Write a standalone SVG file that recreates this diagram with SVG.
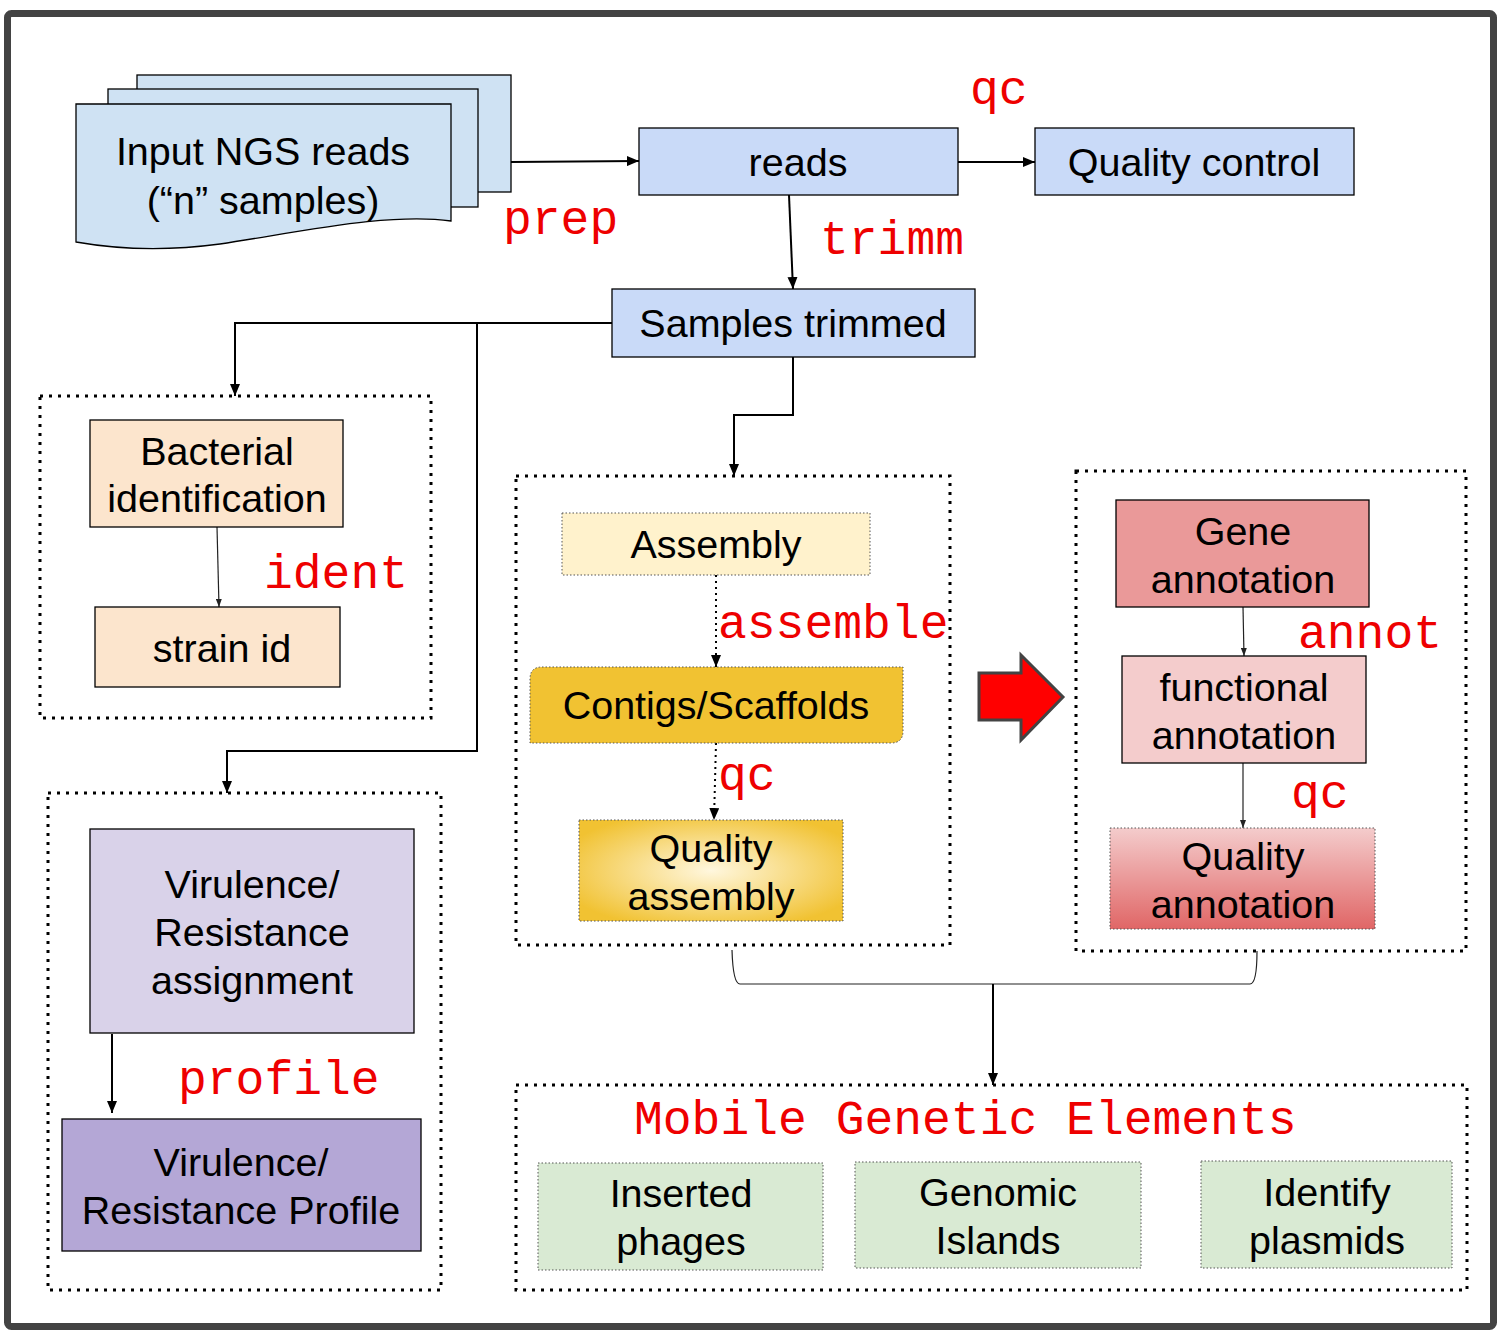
<svg xmlns="http://www.w3.org/2000/svg" width="1507" height="1336" viewBox="0 0 1507 1336">
<defs>
<style>
.t{font-family:"Liberation Sans",Arial,sans-serif;font-size:39.5px;fill:#000;text-anchor:middle}
.r{font-family:"Liberation Mono","Courier New",monospace;font-size:48px;fill:#ee0000}
.b{stroke:#000;stroke-width:1.3}
.grp{fill:none;stroke:#000;stroke-width:3;stroke-dasharray:3 6}
.dt{stroke:#555;stroke-width:1;stroke-dasharray:1.5 2}
.c{fill:none;stroke:#000;stroke-width:2}
.ct{fill:none;stroke:#222;stroke-width:1.2}
</style>
<marker id="ah" markerUnits="userSpaceOnUse" markerWidth="12" markerHeight="10" refX="12" refY="5" orient="auto"><path d="M0,0 L12,5 L0,10 z" fill="#000"/></marker>
<marker id="as" markerUnits="userSpaceOnUse" markerWidth="8" markerHeight="6" refX="8" refY="3" orient="auto"><path d="M0,0 L8,3 L0,6 z" fill="#222"/></marker>
<radialGradient id="qa" cx="50%" cy="50%" r="60%"><stop offset="0" stop-color="#fff7de"/><stop offset="1" stop-color="#f1c232"/></radialGradient>
<linearGradient id="qn" x1="0" y1="0" x2="0" y2="1"><stop offset="0" stop-color="#f4cccc"/><stop offset="1" stop-color="#e06666"/></linearGradient>
</defs>
<rect width="1507" height="1336" fill="#fff"/>
<rect x="7.5" y="13.5" width="1486" height="1313" rx="4" fill="#fff" stroke="#434343" stroke-width="7"/>

<g id="groups">
<rect class="grp" x="40" y="396" width="391" height="322"/>
<rect class="grp" x="48" y="793" width="393" height="497"/>
<rect class="grp" x="516" y="476" width="434" height="469"/>
<rect class="grp" x="1076" y="471" width="390" height="480"/>
<rect class="grp" x="516" y="1085" width="951" height="205"/>
</g>

<g id="connectors">
<line class="c" x1="511" y1="162" x2="639" y2="161" marker-end="url(#ah)"/>
<line class="c" x1="958" y1="162" x2="1035" y2="162" marker-end="url(#ah)"/>
<line class="c" x1="789" y1="195" x2="793" y2="289" marker-end="url(#ah)"/>
<polyline class="c" points="612,323 235,323 235,396" marker-end="url(#ah)"/>
<polyline class="c" points="477,323 477,751 227,751 227,793" marker-end="url(#ah)"/>
<polyline class="c" points="793,357 793,415 734,415 734,476" marker-end="url(#ah)"/>
<line class="ct" x1="217" y1="527" x2="219" y2="607" marker-end="url(#as)"/>
<line class="c" x1="716" y1="575" x2="716" y2="667" stroke-dasharray="2 4" marker-end="url(#ah)"/>
<line class="c" x1="716" y1="743" x2="714" y2="820" stroke-dasharray="2 4" marker-end="url(#ah)"/>
<line class="ct" x1="1243" y1="607" x2="1244" y2="656" marker-end="url(#as)"/>
<line class="ct" x1="1243" y1="763" x2="1243" y2="828" marker-end="url(#as)"/>
<line class="c" x1="112" y1="1034" x2="112" y2="1113" marker-end="url(#ah)"/>
<path class="ct" d="M732,950 Q733,984 740,984 H1250 Q1257,984 1257,951"/>
<line class="c" x1="993" y1="984" x2="993" y2="1085" marker-end="url(#ah)"/>
<polygon points="979,673 1021,673 1021,655 1063,697 1021,740 1021,720 979,720" fill="#ff0000" stroke="#434343" stroke-width="3" stroke-linejoin="miter"/>
</g>

<g id="labels">
<text class="r" x="970" y="104">qc</text>
<text class="r" x="503" y="234">prep</text>
<text class="r" x="820" y="254">trimm</text>
<text class="r" x="264" y="588">ident</text>
<text class="r" x="718" y="638">assemble</text>
<text class="r" x="718" y="790">qc</text>
<text class="r" x="1298" y="648">annot</text>
<text class="r" x="1291" y="808">qc</text>
<text class="r" x="178" y="1094">profile</text>
<text class="r" x="634" y="1134">Mobile Genetic Elements</text>
</g>

<g id="input">
<rect x="137" y="75" width="374" height="117" fill="#cfe2f3" class="b"/>
<rect x="108" y="89" width="370" height="118" fill="#cfe2f3" class="b"/>
<path d="M76,104 H451 V221 C390,212 300,232 220,244 C160,252 110,248 76,242 Z" fill="#cfe2f3" class="b"/>
<text class="t" x="263" y="165">Input NGS reads</text>
<text class="t" x="263" y="214">(“n” samples)</text>
</g>
<g id="reads"><rect x="639" y="128" width="319" height="67" fill="#c9daf8" class="b"/><text class="t" x="798" y="176">reads</text></g>
<g id="qcontrol"><rect x="1035" y="128" width="319" height="67" fill="#c9daf8" class="b"/><text class="t" x="1194" y="176">Quality control</text></g>
<g id="trimmed"><rect x="612" y="289" width="363" height="68" fill="#c9daf8" class="b"/><text class="t" x="793" y="337">Samples trimmed</text></g>
<g id="bacid"><rect x="90" y="420" width="253" height="107" fill="#fce5cd" class="b"/><text class="t" x="217" y="465">Bacterial</text><text class="t" x="217" y="512">identification</text></g>
<g id="strain"><rect x="95" y="607" width="245" height="80" fill="#fce5cd" class="b"/><text class="t" x="222" y="662">strain id</text></g>
<g id="assembly"><rect x="562" y="513" width="308" height="62" fill="#fff2cc" class="dt"/><text class="t" x="716" y="558">Assembly</text></g>
<g id="contigs"><path d="M542,667 H903 V731 Q903,743 891,743 H530 V679 Q530,667 542,667 Z" fill="#f1c232" class="dt"/><text class="t" x="716" y="719">Contigs/Scaffolds</text></g>
<g id="qassembly"><rect x="579" y="820" width="264" height="101" fill="url(#qa)" class="dt"/><text class="t" x="711" y="862">Quality</text><text class="t" x="711" y="910">assembly</text></g>
<g id="gene"><rect x="1116" y="500" width="253" height="107" fill="#ea9999" class="b"/><text class="t" x="1243" y="545">Gene</text><text class="t" x="1243" y="593">annotation</text></g>
<g id="functional"><rect x="1122" y="656" width="244" height="107" fill="#f4cccc" class="b"/><text class="t" x="1244" y="701">functional</text><text class="t" x="1244" y="749">annotation</text></g>
<g id="qannot"><rect x="1110" y="828" width="265" height="101" fill="url(#qn)" class="dt"/><text class="t" x="1243" y="870">Quality</text><text class="t" x="1243" y="918">annotation</text></g>
<g id="vassign"><rect x="90" y="829" width="324" height="204" fill="#d9d2e9" class="b"/><text class="t" x="252" y="898">Virulence/</text><text class="t" x="252" y="946">Resistance</text><text class="t" x="252" y="994">assignment</text></g>
<g id="vprofile"><rect x="62" y="1119" width="359" height="132" fill="#b4a7d6" class="b"/><text class="t" x="241" y="1176">Virulence/</text><text class="t" x="241" y="1224">Resistance Profile</text></g>
<g id="phages"><rect x="538" y="1163" width="285" height="107" fill="#d9ead3" class="dt"/><text class="t" x="681" y="1207">Inserted</text><text class="t" x="681" y="1255">phages</text></g>
<g id="islands"><rect x="855" y="1162" width="286" height="106" fill="#d9ead3" class="dt"/><text class="t" x="998" y="1206">Genomic</text><text class="t" x="998" y="1254">Islands</text></g>
<g id="plasmids"><rect x="1201" y="1161" width="251" height="107" fill="#d9ead3" class="dt"/><text class="t" x="1327" y="1206">Identify</text><text class="t" x="1327" y="1254">plasmids</text></g>
</svg>
